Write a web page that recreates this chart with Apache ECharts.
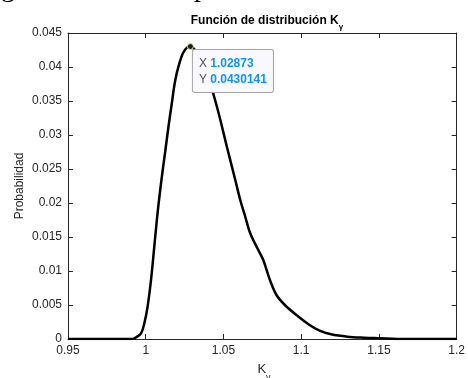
<!DOCTYPE html>
<html>
<head>
<meta charset="utf-8">
<script src="https://cdn.jsdelivr.net/npm/echarts@6/dist/echarts.min.js"></script>
<style>
  html, body { margin: 0; padding: 0; background: #ffffff; }
  #chart { width: 468px; height: 378px; }
</style>
</head>
<body>
<div id="chart"></div>
<script>
// Distribution of K_gamma (probability vs. K_gamma)
const kValues = [
  0.95, 0.9918, 0.9938, 0.9970, 0.9991, 1.0012, 1.0034, 1.0055, 1.0076, 1.0101,
  1.0125, 1.0146, 1.0168, 1.0189, 1.0214, 1.0246, 1.02873, 1.0316, 1.0361, 1.0393,
  1.0427, 1.0469, 1.0522, 1.0576, 1.0608, 1.0640, 1.0672, 1.0724, 1.0756, 1.0799,
  1.0841, 1.0895, 1.0969, 1.1054, 1.1118, 1.1192, 1.1298, 1.1405, 1.1511, 1.1617, 1.2
];
const probValues = [
  0, 0, 0.00025, 0.00084, 0.00231, 0.00475, 0.00868, 0.01357, 0.01849, 0.02338,
  0.02750, 0.03118, 0.03471, 0.03794, 0.04034, 0.04231, 0.0430141, 0.0425, 0.0406, 0.0388,
  0.03662, 0.03319, 0.02828, 0.02338, 0.02044, 0.01799, 0.01554, 0.01309, 0.01162, 0.00868,
  0.00647, 0.00500, 0.00353, 0.00206, 0.00122, 0.00069, 0.00034, 0.00019, 0.00010, 0, 0
];

// Data tip on the maximum
const peakK = 1.02873;
const peakProb = 0.0430141;

const xTicks = [0.95, 1, 1.05, 1.1, 1.15, 1.2];
const xTickLabels = ['0.95', '1', '1.05', '1.1', '1.15', '1.2'];
const yTicks = [0, 0.005, 0.01, 0.015, 0.02, 0.025, 0.03, 0.035, 0.04, 0.045];
const yTickLabels = ['0', '0.005', '0.01', '0.015', '0.02', '0.025', '0.03', '0.035', '0.04', '0.045'];

const curve = kValues.map((k, i) => [k, probValues[i]]);

function labelFor(ticks, labels) {
  return function (v) {
    const i = ticks.findIndex(t => Math.abs(t - v) < 1e-9);
    return i >= 0 ? labels[i] : '';
  };
}

const axisColor = '#262626';
const font = '"Liberation Sans", Arial, sans-serif';
const serif = '"Liberation Serif", "Times New Roman", serif';

const tickCommon = { show: true, inside: true, length: 5, lineStyle: { color: axisColor, width: 1 } };
const lineCommon = { show: true, onZero: false, lineStyle: { color: axisColor, width: 1 } };

const chart = echarts.init(document.getElementById('chart'), null, { renderer: 'canvas' });

chart.setOption({
  animation: false,
  backgroundColor: '#ffffff',
  grid: { left: 68, right: 8, top: 33, bottom: 39, containLabel: false },
  xAxis: [
    {
      type: 'value', position: 'bottom',
      min: xTicks[0], max: xTicks[xTicks.length - 1], interval: 0.05,
      axisLine: lineCommon, axisTick: tickCommon, splitLine: { show: false },
      axisLabel: {
        margin: 6, color: axisColor, fontFamily: font, fontSize: 12,
        formatter: labelFor(xTicks, xTickLabels)
      }
    },
    {
      type: 'value', position: 'top',
      min: xTicks[0], max: xTicks[xTicks.length - 1], interval: 0.05,
      axisLine: lineCommon, axisTick: tickCommon, splitLine: { show: false },
      axisLabel: { show: false }
    }
  ],
  yAxis: [
    {
      type: 'value', position: 'left',
      min: 0, max: 0.045, interval: 0.005,
      axisLine: lineCommon, axisTick: tickCommon, splitLine: { show: false },
      axisLabel: {
        margin: 6, color: axisColor, fontFamily: font, fontSize: 12,
        formatter: labelFor(yTicks, yTickLabels)
      }
    },
    {
      type: 'value', position: 'right',
      min: 0, max: 0.045, interval: 0.005,
      axisLine: lineCommon, axisTick: tickCommon, splitLine: { show: false },
      axisLabel: { show: false }
    }
  ],
  series: [
    {
      type: 'line',
      data: curve,
      smooth: 0.35,
      showSymbol: false,
      lineStyle: { color: '#000000', width: 2.5 },
      z: 3,
      markPoint: {
        z: 10,
        symbol: 'circle',
        symbolSize: 6,
        itemStyle: { color: '#1a1a1a', borderColor: '#e8e49a', borderWidth: 1 },
        data: [{ coord: [peakK, peakProb] }],
        label: {
          show: true,
          position: [6, 7],
          align: 'left',
          verticalAlign: 'top',
          backgroundColor: '#f9f9fd',
          borderColor: '#a3a3a3',
          borderWidth: 1,
          borderRadius: 2,
          padding: [6, 6, 4, 6],
          formatter: '{k|X} {v|' + peakK + '}\n{k|Y} {v|' + peakProb + '}',
          rich: {
            k: { color: '#505050', fontFamily: font, fontSize: 12, lineHeight: 16 },
            v: { color: '#0a96f5', fontFamily: font, fontSize: 12, fontWeight: 'bold', lineHeight: 16 }
          }
        }
      }
    }
  ],
  graphic: [
    // Title with subscript
    {
      type: 'text', x: 267, y: 21,
      style: {
        text: '{t|Función de distribución K}{s|γ}',
        align: 'center', verticalAlign: 'middle',
        rich: {
          t: { fontFamily: font, fontSize: 12, fontWeight: 'bold', fill: '#000000' },
          s: { fontFamily: font, fontSize: 8, fontWeight: 'bold', fill: '#000000', padding: [11, 0, 0, 0] }
        }
      }
    },
    // y-axis name
    {
      type: 'text', x: 20, y: 186, rotation: Math.PI / 2,
      style: {
        text: 'Probabilidad', align: 'center', verticalAlign: 'middle',
        fontFamily: font, fontSize: 12, fill: axisColor
      }
    },
    // x-axis name with subscript
    {
      type: 'text', x: 264, y: 369,
      style: {
        text: '{t|K}{s|γ}', align: 'center', verticalAlign: 'middle',
        rich: {
          t: { fontFamily: font, fontSize: 13, fill: axisColor },
          s: { fontFamily: font, fontSize: 9, fill: axisColor, padding: [18, 0, 0, 0] }
        }
      }
    },
    // Running text above the figure (only its lower edge is on the page)
    { type: 'text', x: 1, y: 3, style: { text: 'g', fontFamily: serif, fontSize: 28, fill: '#000', verticalAlign: 'bottom' } },
    { type: 'text', x: 194, y: 3, style: { text: 'p', fontFamily: serif, fontSize: 28, fill: '#000', verticalAlign: 'bottom' } },
    { type: 'text', x: 292, y: 3, style: { text: '[', fontFamily: serif, fontSize: 28, fill: '#000', verticalAlign: 'bottom' } },
    { type: 'text', x: 314, y: 3, style: { text: ']', fontFamily: serif, fontSize: 28, fill: '#000', verticalAlign: 'bottom' } }
  ]
});
</script>
</body>
</html>
